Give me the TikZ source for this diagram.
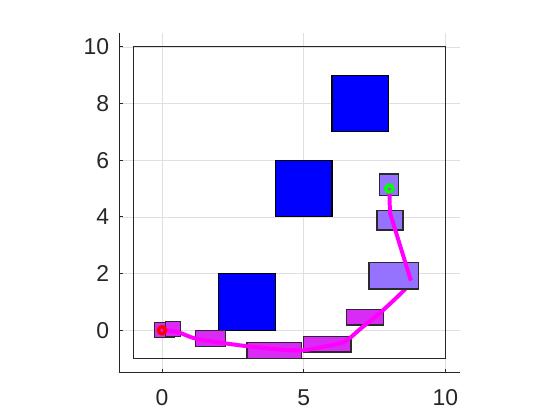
\documentclass[tikz,border=0pt]{standalone}
\usepackage{fontspec}
\setmainfont{Liberation Sans}
\definecolor{axgray}{HTML}{262626}
\definecolor{gridgray}{HTML}{DFDFDF}
\definecolor{carA}{HTML}{D92BF5}
\definecolor{carB}{HTML}{9673FF}
\definecolor{obst}{HTML}{0000FF}
\definecolor{pathc}{HTML}{FF00FF}
\definecolor{edgec}{HTML}{2A2A2A}
\tikzset{
  gridline/.style={draw=gridgray, line width=0.5pt},
  axisline/.style={draw=axgray, line width=0.8pt},
  ticklab/.style={text=axgray, inner sep=0pt, font=\fontsize{23}{27}\selectfont},
  obstbox/.style={fill=obst, draw=black, line width=1.2pt},
  footA/.style={fill=carA, draw=edgec, line width=1.3pt},
  footB/.style={fill=carB, draw=edgec, line width=1.3pt},
  route/.style={draw=pathc, line width=4pt, line join=round},
  startmark/.style={draw=red, line width=3.4pt},
  goalmark/.style={draw=green, line width=3.4pt},
  framebox/.style={draw=black!85, line width=1.3pt}
}
\begin{document}
\begin{tikzpicture}[x=1cm,y=1cm]
\useasboundingbox[fill=white] (-5.715,-3.164) rectangle (14.04,11.65);
% grid
\foreach \gx in {0,5,10} \draw[gridline] (\gx,-1.5) -- (\gx,10.5);
\foreach \gy in {0,2,...,10} \draw[gridline] (-1.5,\gy) -- (10.5,\gy);
% axes
\draw[axisline] (-1.5,10.5) -- (-1.5,-1.5) -- (10.5,-1.5);
\foreach \gx in {0,5,10} {
  \draw[axisline] (\gx,-1.5) -- (\gx,-1.38);
  \node[ticklab, anchor=north] (xl\gx) at (\gx,-2.08) {\gx};
}
\foreach \gy in {0,2,...,10} {
  \draw[axisline] (-1.5,\gy) -- (-1.38,\gy);
  \node[ticklab, anchor=east] (yl\gy) at (-1.86,\gy) {\gy};
}
% workspace frame
\draw[framebox] (-1,-1) rectangle (10,10);
% obstacles
\draw[obstbox] (2,0) rectangle (4,2);
\draw[obstbox] (4,4) rectangle (6,6);
\draw[obstbox] (6,7) rectangle (8,9);
% vehicle footprints
\draw[footA] (-0.26,-0.26) rectangle (0.45,0.27);
\draw[footA] (0.13,-0.22) rectangle (0.64,0.30);
\draw[footA] (1.19,-0.58) rectangle (2.23,-0.02);
\draw[footA] (3.0,-0.99) rectangle (4.93,-0.44);
\draw[footA] (4.98,-0.77) rectangle (6.67,-0.22);
\draw[footA] (6.51,0.19) rectangle (7.81,0.73);
\draw[footB] (7.58,3.54) rectangle (8.50,4.22);
\draw[footB] (7.68,4.75) rectangle (8.35,5.51);
% path, lower part
\draw[route] plot[smooth, tension=0.45] coordinates {(0,0) (0.55,-0.06) (1.2,-0.3) (2.5,-0.5) (3.9,-0.66) (4.93,-0.71) (5.8,-0.56) (6.45,-0.40) (7.0,0.05) (7.7,0.62) (8.55,1.42) (8.78,1.75)};
% footprint covering the lower path
\draw[footB] (7.30,1.45) rectangle (9.06,2.40);
% path, upper part
\coordinate (pa) at (8.78,1.75);
\coordinate (pb) at (8.04,4.15);
\coordinate (pc) at (8.02,5.0);
\draw[route] (pa) -- (pb) -- (pc);
% start and goal
\draw[startmark] (0,0) circle (3.6pt);
\draw[goalmark] (8.02,5.0) circle (3.6pt);
\end{tikzpicture}
\end{document}
